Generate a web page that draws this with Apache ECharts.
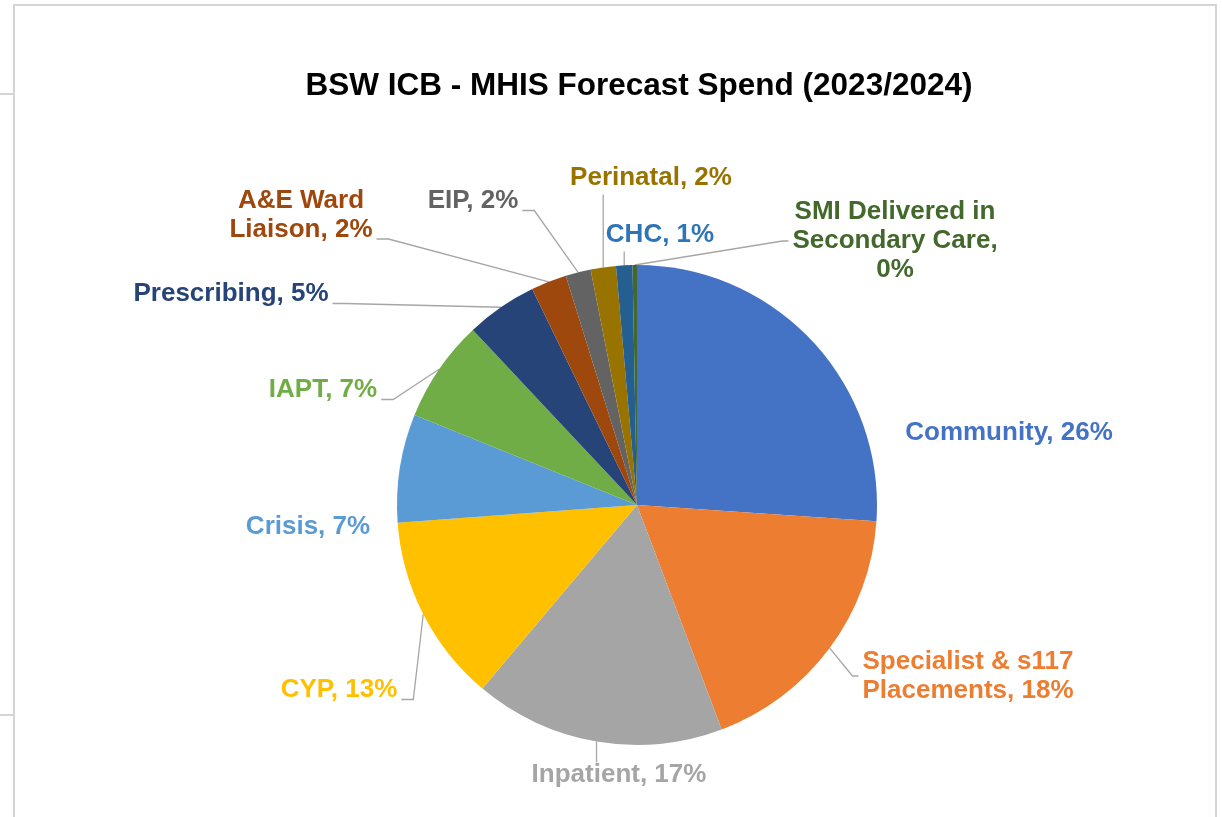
<!DOCTYPE html>
<html>
<head>
<meta charset="utf-8">
<script src="https://cdn.jsdelivr.net/npm/echarts@6/dist/echarts.min.js"></script>
<style>
html,body{margin:0;padding:0;background:#fff;}
#chart{width:1222px;height:817px;}
</style>
</head>
<body>
<div id="chart"></div>
<script>
// ---- data ----
const categories = ['Community', 'Specialist & s117\nPlacements', 'Inpatient', 'CYP', 'Crisis', 'IAPT',
  'Prescribing', 'A&E Ward\nLiaison', 'EIP', 'Perinatal', 'CHC', 'SMI Delivered in\nSecondary Care,\n'];
const values = [26.1, 18.2, 16.9, 12.7, 7.3, 6.9, 4.8, 2.4, 1.7, 1.7, 1.1, 0.3];
const titleText = 'BSW ICB - MHIS Forecast Spend (2023/2024)';

// ---- styles ----
const sliceColors = ['#4472C4', '#ED7D31', '#A5A5A5', '#FFC000', '#5B9BD5', '#70AD47',
  '#264478', '#9E480E', '#636363', '#997300', '#255E91', '#43682B'];
const labelColors = ['#4472C4', '#ED7D31', '#A5A5A5', '#FFC000', '#5B9BD5', '#70AD47',
  '#264478', '#9E480E', '#636363', '#997300', '#2E75B6', '#43682B'];
// label centres (layout only)
const labelPos = [[1009, 433], [968, 676], [619, 775], [339, 690], [308, 527], [323, 390],
  [231, 294], [301, 215], [473, 201], [651, 178], [660, 235], [895, 241]];
// side of the label the leader line attaches to (null = no leader line)
const lineSide = [null, 'left', 'top', 'right', null, 'right', 'right', 'right', 'right', 'bottom', 'bottom', 'left'];

const total = values.reduce((a, b) => a + b, 0);
const data = categories.map((c, i) => ({
  name: c,
  value: values[i],
  itemStyle: { color: sliceColors[i] },
  label: { color: labelColors[i] },
  labelLine: { show: lineSide[i] !== null }
}));

const chart = echarts.init(document.getElementById('chart'));
chart.setOption({
  backgroundColor: '#ffffff',
  animation: false,
  title: {
    text: titleText,
    left: 634,
    textAlign: 'center',
    top: 65,
    textStyle: { fontFamily: 'Liberation Sans, Arial, sans-serif', fontWeight: 'bold', fontSize: 31.5, color: '#000' }
  },
  graphic: [
    { type: 'polyline', shape: { points: [[14, 817], [14, 5], [1216, 5], [1216, 817]] }, style: { stroke: '#d4d4d4', lineWidth: 2, fill: null }, silent: true },
    { type: 'line', shape: { x1: 0, y1: 94, x2: 14, y2: 94 }, style: { stroke: '#d4d4d4', lineWidth: 2 }, silent: true },
    { type: 'line', shape: { x1: 0, y1: 715, x2: 14, y2: 715 }, style: { stroke: '#d4d4d4', lineWidth: 2 }, silent: true }
  ],
  series: [{
    type: 'pie',
    center: [637, 505],
    radius: 240,
    startAngle: 90,
    clockwise: true,
    data: data,
    itemStyle: { borderWidth: 0 },
    label: {
      show: true,
      position: 'outside',
      fontFamily: 'Liberation Sans, Arial, sans-serif',
      fontWeight: 'bold',
      fontSize: 26,
      lineHeight: 29,
      align: 'center',
      formatter: p => p.name + (p.name.endsWith('\n') ? '' : ', ') + Math.round(p.value / total * 100) + '%'
    },
    labelLine: { show: true, length: 10, length2: 6, lineStyle: { color: '#a6a6a6', width: 1.3 } },
    labelLayout: function (params) {
      const i = params.dataIndex;
      const cx = labelPos[i][0], cy = labelPos[i][1];
      const w = params.labelRect.width, h = params.labelRect.height;
      const res = { x: cx, y: cy, align: 'center', verticalAlign: 'middle' };
      const side = lineSide[i];
      const pts = params.labelLinePoints;
      if (side && pts) {
        const a = pts[0];
        const L = cx - w / 2, R = cx + w / 2, T = cy - h / 2, B = cy + h / 2;
        let p1, p2;
        if (side === 'right') {
          p2 = [R + 4, B - 5]; p1 = [R + 16, B - 5];
        } else if (side === 'left') {
          p2 = [L - 4, cy]; p1 = [L - 10, cy];
        } else if (side === 'top') {
          p2 = [a[0], T + 2]; p1 = [a[0], (a[1] + T) / 2];
        } else {
          p2 = [a[0], B + 2]; p1 = [a[0], (a[1] + B) / 2];
        }
        res.labelLinePoints = [a, p1, p2];
      }
      return res;
    }
  }]
});
</script>
</body>
</html>
